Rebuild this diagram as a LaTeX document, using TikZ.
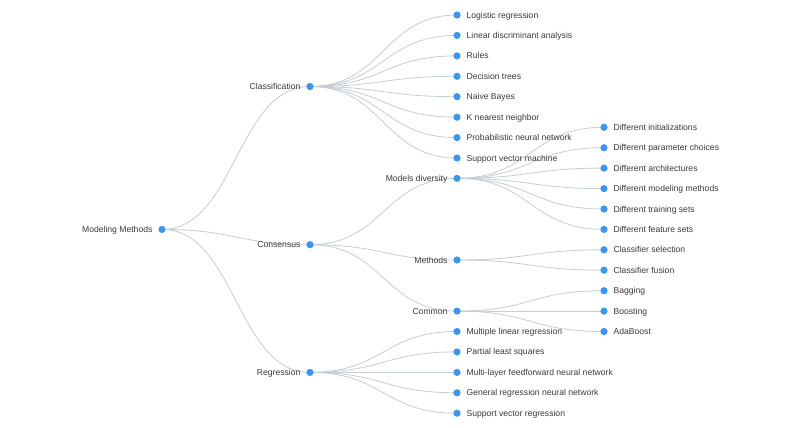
\documentclass[tikz,border=0pt]{standalone}
\usepackage{fontspec}
\setmainfont{Liberation Sans}
\usetikzlibrary{backgrounds}
\definecolor{dotblue}{HTML}{3B96EC}
\definecolor{linkgray}{HTML}{C5CDD5}
\definecolor{txt}{HTML}{3A3A3A}
\tikzset{
  dot/.style={circle, fill=dotblue, inner sep=0pt, minimum size=7.2pt},
  lbl/.style={inner sep=0pt, text height=6.1pt, text depth=0pt, text=txt, font=\fontsize{8.6pt}{10pt}\selectfont},
  leaf/.style={dot, label={[lbl, label distance=5.6pt]right:#1}},
  inner/.style={dot, label={[lbl, label distance=5.6pt]left:#1}},
  link/.style={draw=linkgray, line width=0.8pt},
}
\newcommand{\lnk}[2]{\draw[link] (#1.center) .. controls ([xshift=73.5pt]#1.center) and ([xshift=-73.5pt]#2.center) .. (#2.center);}
\begin{document}
\begin{tikzpicture}[x=1pt,y=-1pt]
\useasboundingbox (0,0) rectangle (800,428);
% nodes
\node[inner=Modeling Methods] (root) at (162,229.4) {};
\node[inner=Classification] (cls) at (310,86.5) {};
\node[inner=Consensus] (con) at (310,244.7) {};
\node[inner=Regression] (reg) at (310,372.4) {};
\node[leaf=Logistic regression] (c1) at (457,15.0) {};
\node[leaf=Linear discriminant analysis] (c2) at (457,35.4) {};
\node[leaf=Rules] (c3) at (457,55.9) {};
\node[leaf=Decision trees] (c4) at (457,76.3) {};
\node[leaf=Naive Bayes] (c5) at (457,96.7) {};
\node[leaf=K nearest neighbor] (c6) at (457,117.2) {};
\node[leaf=Probabilistic neural network] (c7) at (457,137.6) {};
\node[leaf=Support vector machine] (c8) at (457,158.0) {};
\node[inner=Models diversity] (md) at (457,178.35) {};
\node[inner=Methods] (meth) at (457,260.0) {};
\node[inner=Common] (com) at (457,311.1) {};
\node[leaf=Different initializations] (m1) at (604,127.3) {};
\node[leaf=Different parameter choices] (m2) at (604,147.7) {};
\node[leaf=Different architectures] (m3) at (604,168.1) {};
\node[leaf=Different modeling methods] (m4) at (604,188.6) {};
\node[leaf=Different training sets] (m5) at (604,209.0) {};
\node[leaf=Different feature sets] (m6) at (604,229.4) {};
\node[leaf=Classifier selection] (t1) at (604,249.8) {};
\node[leaf=Classifier fusion] (t2) at (604,270.2) {};
\node[leaf=Bagging] (o1) at (604,290.7) {};
\node[leaf=Boosting] (o2) at (604,311.1) {};
\node[leaf=AdaBoost] (o3) at (604,331.5) {};
\node[leaf=Multiple linear regression] (r1) at (457,331.5) {};
\node[leaf=Partial least squares] (r2) at (457,351.9) {};
\node[leaf=Multi-layer feedforward neural network] (r3) at (457,372.4) {};
\node[leaf=General regression neural network] (r4) at (457,392.8) {};
\node[leaf=Support vector regression] (r5) at (457,413.2) {};
% links (behind)
\begin{scope}[on background layer]
\fill[white] (0,0) rectangle (800,428);
\lnk{root}{cls}\lnk{root}{con}\lnk{root}{reg}
\foreach \c in {c1,c2,c3,c4,c5,c6,c7,c8} {\lnk{cls}{\c}}
\lnk{con}{md}\lnk{con}{meth}\lnk{con}{com}
\foreach \c in {m1,m2,m3,m4,m5,m6} {\lnk{md}{\c}}
\lnk{meth}{t1}\lnk{meth}{t2}
\lnk{com}{o1}\lnk{com}{o2}\lnk{com}{o3}
\foreach \c in {r1,r2,r3,r4,r5} {\lnk{reg}{\c}}
\end{scope}
\end{tikzpicture}
\end{document}
